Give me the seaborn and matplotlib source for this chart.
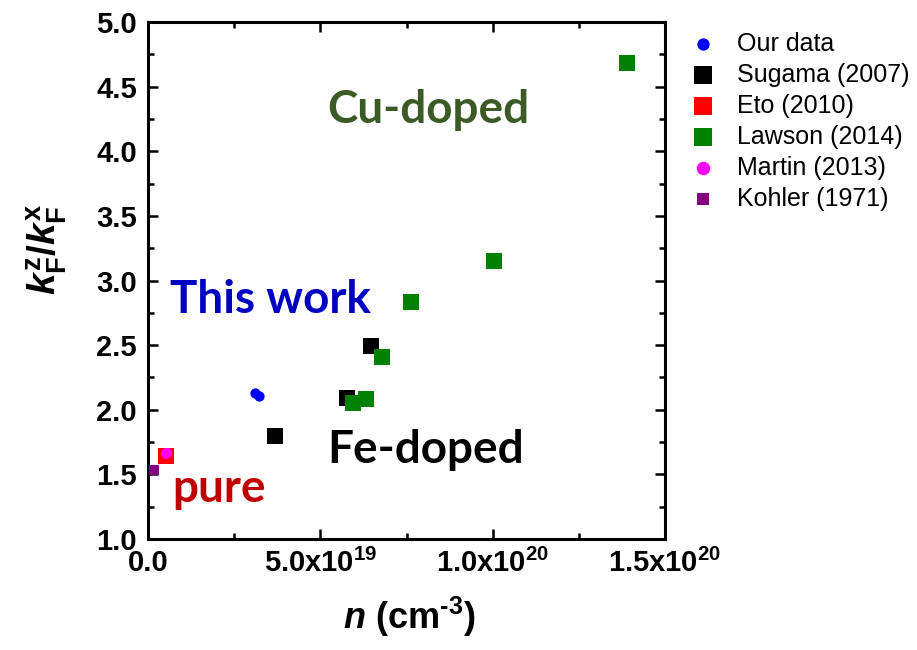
import matplotlib
matplotlib.use("Agg")
import matplotlib.pyplot as plt
from matplotlib.ticker import MultipleLocator, FixedLocator, FormatStrFormatter
import pandas as pd
import seaborn as sns

# Carrier density n (cm^-3) and Fermi-wavevector anisotropy kFz/kFx
our_n = [3.10e19, 3.22e19]
our_k = [2.13, 2.11]

sugama_n = [3.68e19, 5.77e19, 6.46e19]
sugama_k = [1.80, 2.09, 2.49]

eto_n = [0.52e19]
eto_k = [1.64]

lawson_n = [5.94e19, 6.32e19, 6.78e19, 7.62e19, 1.003e20, 1.391e20]
lawson_k = [2.05, 2.08, 2.41, 2.83, 3.15, 4.68]

martin_n = [0.52e19]
martin_k = [1.665]

kohler_n = [0.17e19]
kohler_k = [1.53]

x_tick_values = [0.0, 5.0e19, 1.0e20, 1.5e20]
x_tick_labels = ["0.0", r"5.0x10$^{19}$", r"1.0x10$^{20}$", r"1.5x10$^{20}$"]

sns.set_theme(style="ticks")
plt.rcParams["font.family"] = ["Liberation Sans", "DejaVu Sans"]
plt.rcParams["mathtext.fontset"] = "custom"
plt.rcParams["mathtext.rm"] = "Liberation Sans:bold"
plt.rcParams["mathtext.bf"] = "Liberation Sans:bold"
plt.rcParams["mathtext.it"] = "Liberation Sans:italic:bold"
plt.rcParams["mathtext.default"] = "it"
for key in ("text.color", "axes.labelcolor", "xtick.color", "ytick.color",
            "xtick.labelcolor", "ytick.labelcolor"):
    plt.rcParams[key] = "black"

fig = plt.figure(figsize=(9.17, 6.5), dpi=100)
ax = fig.add_axes([148 / 917, 111 / 650, 517 / 917, 517 / 650])

series = [
    ("Our data", our_n, our_k, "o", "#0000FF", 55),
    ("Sugama (2007)", sugama_n, sugama_k, "s", "#000000", 120),
    ("Eto (2010)", eto_n, eto_k, "s", "#FF0000", 120),
    ("Lawson (2014)", lawson_n, lawson_k, "s", "#008000", 120),
    ("Martin (2013)", martin_n, martin_k, "o", "#FF00FF", 65),
    ("Kohler (1971)", kohler_n, kohler_k, "s", "#800080", 45),
]

for name, xs, ys, mk, col, size in series:
    df = pd.DataFrame({"n": xs, "ratio": ys})
    sns.scatterplot(data=df, x="n", y="ratio", ax=ax, marker=mk, color=col,
                    s=size, linewidth=0, label=name, zorder=3)

ax.set_xlim(0, 1.5e20)
ax.set_ylim(1.0, 5.0)

ax.xaxis.set_major_locator(FixedLocator(x_tick_values))
ax.set_xticklabels(x_tick_labels)
ax.xaxis.set_minor_locator(MultipleLocator(2.5e19))
ax.yaxis.set_major_locator(MultipleLocator(0.5))
ax.yaxis.set_minor_locator(MultipleLocator(0.25))
ax.yaxis.set_major_formatter(FormatStrFormatter("%.1f"))

for spine in ax.spines.values():
    spine.set_visible(True)
    spine.set_linewidth(2.2)
    spine.set_color("black")

ax.tick_params(which="both", direction="in", top=True, right=True,
               width=1.8, color="black", labelcolor="black")
ax.tick_params(which="major", length=7, labelsize=21)
ax.tick_params(which="minor", length=4)
ax.tick_params(axis="x", which="major", pad=7)
ax.tick_params(axis="y", which="major", pad=8)
for lab in ax.get_xticklabels() + ax.get_yticklabels():
    lab.set_fontweight("bold")

ax.set_xlabel("$n$ (cm$^{\u20103}$)", fontsize=26, fontweight="bold",
              color="black")
ax.xaxis.set_label_coords(0.505, -0.108)
ax.set_ylabel(r"$k^{\mathbf{z}}_{\mathbf{F}}/k^{\mathbf{x}}_{\mathbf{F}}$",
              fontsize=28, color="black")
ax.yaxis.set_label_coords(-0.152, 0.56)

# Region annotations
note_font = ["Lato", "DejaVu Sans"]
note_size = 33
ax.text(0.346, 0.805, "Cu-doped", transform=ax.transAxes, fontsize=note_size,
        fontweight="bold", color="#3C5A25", family=note_font, va="baseline")
ax.text(0.043, 0.437, "This work", transform=ax.transAxes, fontsize=note_size,
        fontweight="bold", color="#0000C0", family=note_font, va="baseline")
ax.text(0.346, 0.147, "Fe-doped", transform=ax.transAxes, fontsize=note_size,
        fontweight="bold", color="#000000", family=note_font, va="baseline")
ax.text(0.046, 0.072, "pure", transform=ax.transAxes, fontsize=note_size,
        fontweight="bold", color="#C00000", family=note_font, va="baseline")

leg = ax.legend(loc="upper left", bbox_to_anchor=(1.02, 1.01), frameon=False,
                fontsize=18, handletextpad=0.85, labelspacing=0.28,
                handlelength=1.0, borderaxespad=0.2, markerscale=1.2,
                labelcolor="black")

fig.savefig("out.png", dpi=100)
